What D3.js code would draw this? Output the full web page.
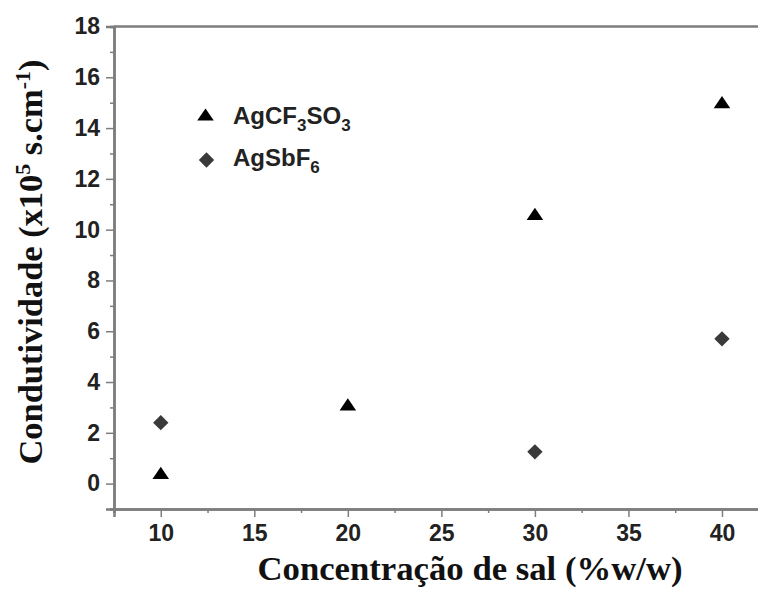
<!DOCTYPE html>
<html>
<head>
<meta charset="utf-8">
<script src="https://cdn.jsdelivr.net/npm/d3@7"></script>
<style>
  html, body { margin: 0; padding: 0; background: #fff; }
  svg { display: block; }
</style>
</head>
<body>
<script>
// ---- data ----
const xValues = [10, 20, 30, 40];
const seriesNames = ["AgCF3SO3", "AgSbF6"];
const agcf3so3 = [0.4, 3.1, 10.6, 15.0];
const agsbf6X = [10, 30, 40];
const agsbf6 = [2.4, 1.25, 5.7];
const yTicks = [0, 2, 4, 6, 8, 10, 12, 14, 16, 18];
const yMinor = [-1, 1, 3, 5, 7, 9, 11, 13, 15, 17];
const xTicks = [10, 15, 20, 25, 30, 35, 40];
const xMinor = [7.5, 12.5, 17.5, 22.5, 27.5, 32.5, 37.5, 42.5];

const W = 758, H = 589;
const svg = d3.select("body").append("svg").attr("width", W).attr("height", H);

const x = d3.scaleLinear().domain([7.5, 42.5]).range([114, 768.75]);
const y = d3.scaleLinear().domain([-1, 18]).range([509, 26.5]);

const axisColor = "#7d7d7d";
const sans = "'Liberation Sans', Arial, sans-serif";
const serif = "'Liberation Serif', 'Times New Roman', serif";

// axes
const gx = svg.append("g").attr("transform", `translate(0,${y(-1)})`);
gx.call(d3.axisBottom(x).tickValues(xTicks).tickSize(8).tickPadding(8).tickFormat(d3.format("d")));
const gxm = svg.append("g").attr("transform", `translate(0,${y(-1)})`);
gxm.call(d3.axisBottom(x).tickValues(xMinor).tickSize(4).tickFormat(""));

const gy = svg.append("g").attr("transform", `translate(${x(7.5)},0)`);
gy.call(d3.axisLeft(y).tickValues(yTicks).tickSize(8).tickPadding(6).tickFormat(d3.format("d")));
const gym = svg.append("g").attr("transform", `translate(${x(7.5)},0)`);
gym.call(d3.axisLeft(y).tickValues(yMinor).tickSize(4).tickFormat(""));

// top frame line
svg.append("line")
  .attr("x1", x(7.5)).attr("x2", x(42.5))
  .attr("y1", y(18)).attr("y2", y(18))
  .attr("stroke", axisColor).attr("stroke-width", 2.5);
svg.append("line")
  .attr("x1", x(42.5)).attr("x2", x(42.5))
  .attr("y1", y(18)).attr("y2", y(-1))
  .attr("stroke", axisColor).attr("stroke-width", 2.5);

svg.selectAll(".domain").attr("stroke", axisColor).attr("stroke-width", 2.5);
svg.selectAll(".tick line").attr("stroke", axisColor).attr("stroke-width", 1.5);
svg.selectAll(".tick text")
  .attr("font-family", sans).attr("font-weight", "bold")
  .attr("font-size", 23).attr("fill", "#222");

// markers
const tri = d3.symbol().type(d3.symbolTriangle).size(95);
const dia = d3.symbol().type(d3.symbolSquare).size(118);

svg.append("g").selectAll("path")
  .data(xValues.map((v, i) => [v, agcf3so3[i]]))
  .join("path")
  .attr("d", tri)
  .attr("transform", d => `translate(${x(d[0])},${y(d[1]) + 1.5}) scale(1.12,0.95)`)
  .attr("fill", "#000");

svg.append("g").selectAll("path")
  .data(agsbf6X.map((v, i) => [v, agsbf6[i]]))
  .join("path")
  .attr("d", dia)
  .attr("transform", d => `translate(${x(d[0])},${y(d[1])}) rotate(45)`)
  .attr("fill", "#3a3a3a");

// legend
const lg = svg.append("g");
lg.append("path").attr("d", tri).attr("transform", "translate(205.5,116.5) scale(1.12,0.95)").attr("fill", "#000");
lg.append("path").attr("d", dia).attr("transform", "translate(206.5,160) rotate(45)").attr("fill", "#3a3a3a");

function legendText(yPos, parts) {
  const t = lg.append("text").attr("x", 233).attr("y", yPos)
    .attr("font-family", sans).attr("font-weight", "bold").attr("font-size", 24).attr("fill", "#222");
  parts.forEach(p => {
    const ts = t.append("tspan").text(p.t);
    if (p.sub) ts.attr("font-size", 17).attr("dy", 7);
    if (p.back) ts.attr("dy", -7);
  });
}
legendText(124, [{t: "AgCF"}, {t: "3", sub: true}, {t: "SO", back: true}, {t: "3", sub: true}]);
legendText(166, [{t: "AgSbF"}, {t: "6", sub: true}]);

// axis titles
svg.append("text")
  .attr("x", 470).attr("y", 580)
  .attr("text-anchor", "middle")
  .attr("font-family", serif).attr("font-weight", "bold").attr("font-size", 33).attr("fill", "#111")
  .attr("textLength", 425).attr("lengthAdjust", "spacingAndGlyphs")
  .text("Concentração de sal (%w/w)");

const yl = svg.append("text")
  .attr("transform", "translate(42,262) rotate(-90)")
  .attr("text-anchor", "middle")
  .attr("font-family", serif).attr("font-weight", "bold").attr("font-size", 33).attr("fill", "#111")
  .attr("textLength", 405).attr("lengthAdjust", "spacingAndGlyphs");
yl.append("tspan").text("Condutividade (x10");
yl.append("tspan").text("5").attr("font-size", 21).attr("dy", -12);
yl.append("tspan").text(" s.cm").attr("dy", 12);
yl.append("tspan").text("-1").attr("font-size", 21).attr("dy", -12);
yl.append("tspan").text(")").attr("dy", 12);
</script>
</body>
</html>
